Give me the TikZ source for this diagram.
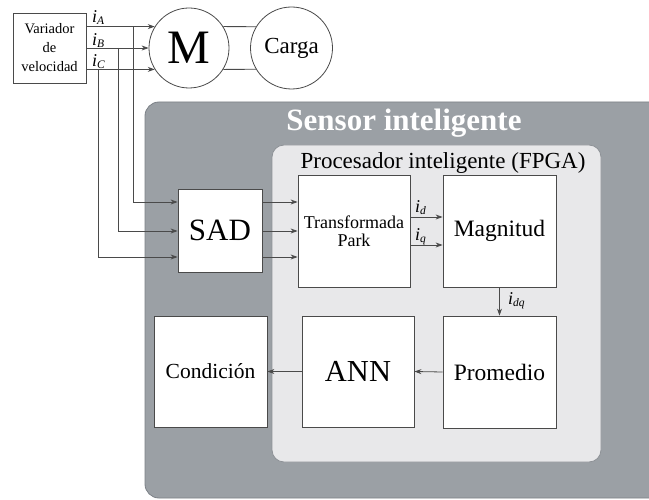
\documentclass[tikz,border=0pt]{standalone}
\usepackage{fontspec}
\setmainfont{Liberation Serif}
\usetikzlibrary{arrows.meta}
\definecolor{panelg}{HTML}{9BA0A5}
\definecolor{paneledge}{HTML}{7C8187}
\definecolor{procg}{HTML}{E8E8EA}
\definecolor{procedge}{HTML}{8E9297}
\definecolor{ink}{HTML}{4A4A4A}
\newcommand\fs[1]{\fontsize{#1}{1.2\dimexpr#1pt\relax}\selectfont}
\newcommand\cur[1]{{\fs{18}\itshape i}\raisebox{-0.3ex}{\fs{11.5}\itshape #1}}
\begin{document}
\begin{tikzpicture}[x=1pt,y=-1pt,
  blk/.style={draw=ink, fill=white, line width=0.8pt, inner sep=0pt, align=center},
  rnd/.style={draw=ink, fill=white, line width=0.8pt, circle, inner sep=0pt},
  conn/.style={draw=ink, line width=0.8pt, -{Stealth[length=7pt,width=5pt]}},
  wire/.style={draw=ink, line width=0.8pt},
  lbl/.style={inner sep=0pt, anchor=base west}]
\useasboundingbox (0,0) rectangle (649,500);
\fill[white] (0,0) rectangle (649,500);

% sensor panel and FPGA panel
\filldraw[fill=panelg, draw=paneledge, line width=0.8pt, rounded corners=14pt] (145,102) rectangle (680,498);
\filldraw[fill=procg, draw=procedge, line width=0.8pt, rounded corners=12pt] (272,145) rectangle (601,462);
\node[inner sep=0pt, anchor=base, text=white, font=\fs{31}\bfseries] (tsen) at (404,131) {Sensor inteligente};
\node[inner sep=0pt, anchor=base, font=\fs{23}] (tproc) at (443,169) {Procesador inteligente (FPGA)};

% drive, motor and load
\node[blk, minimum width=73pt, minimum height=70pt, font={\fontsize{14.5}{19}\selectfont}] (var) at (49.5,48) {Variador\\de\\velocidad};
\node[rnd, minimum size=80pt, font=\fs{48}] (m) at (189,48) {M};
\node[rnd, minimum size=82pt, font=\fs{23}] (carga) at (291.5,48) {Carga};
\draw[wire] (m.32) -- (carga.149);
\draw[wire] (m.-32) -- (carga.-149);

% processing blocks
\node[blk, minimum width=84pt, minimum height=83pt, font=\fs{31}] (sad) at (220,230.5) {SAD};
\node[blk, minimum width=112pt, minimum height=112pt, font={\fontsize{18}{18}\selectfont}] (park) at (354,231) {Transformada\\Park};
\node[blk, minimum width=113pt, minimum height=112pt, font=\fs{23.5}] (mag) at (499.5,231) {Magnitud};
\node[blk, minimum width=113pt, minimum height=112pt, font=\fs{23.5}] (prom) at (499.5,372) {Promedio};
\node[blk, minimum width=112pt, minimum height=111pt, font=\fs{30.5}] (ann) at (358,371.5) {ANN};
\node[blk, minimum width=113pt, minimum height=111pt, font=\fs{21.5}] (cond) at (210.5,371.5) {Condición};

% phase currents into the motor
\draw[conn] (var.east |- m.148) -- (m.148);
\draw[conn] (var.east |- m.west) -- (m.west);
\draw[conn] (var.east |- m.212) -- (m.212);
\node[lbl] (la) at (92,23) {\cur{A}};
\node[lbl] (lb) at (92,46) {\cur{B}};
\node[lbl] (lc) at (92,67) {\cur{C}};

% current taps towards the acquisition system
\coordinate (ta) at (133,0);
\coordinate (tb) at (118,0);
\coordinate (tc) at (98,0);
\coordinate (r1) at (0,202);
\coordinate (r2) at (0,231);
\coordinate (r3) at (0,257);
\draw[conn] (ta |- m.148) |- (sad.west |- r1);
\draw[conn] (tb |- m.west) |- (sad.west |- r2);
\draw[conn] (tc |- m.212) |- (sad.west |- r3);

% SAD to Park transform
\draw[conn] (sad.east |- r1) -- (park.west |- r1);
\draw[conn] (sad.east |- r2) -- (park.west |- r2);
\draw[conn] (sad.east |- r3) -- (park.west |- r3);

% Park transform to magnitude
\coordinate (rd) at (0,217);
\coordinate (rq) at (0,245);
\draw[conn] (park.east |- rd) -- (mag.west |- rd);
\draw[conn] (park.east |- rq) -- (mag.west |- rq);
\node[lbl] (ld) at (415,213) {\cur{d}};
\node[lbl] (lq) at (415,241) {\cur{q}};

% magnitude, averaging, network, condition
\draw[conn] (mag.south) -- (prom.north);
\node[lbl] (ldq) at (508,305) {\cur{dq}};
\draw[conn] (prom.west) -- (ann.east);
\draw[conn] (ann.west) -- (cond.east);
\end{tikzpicture}
\end{document}
